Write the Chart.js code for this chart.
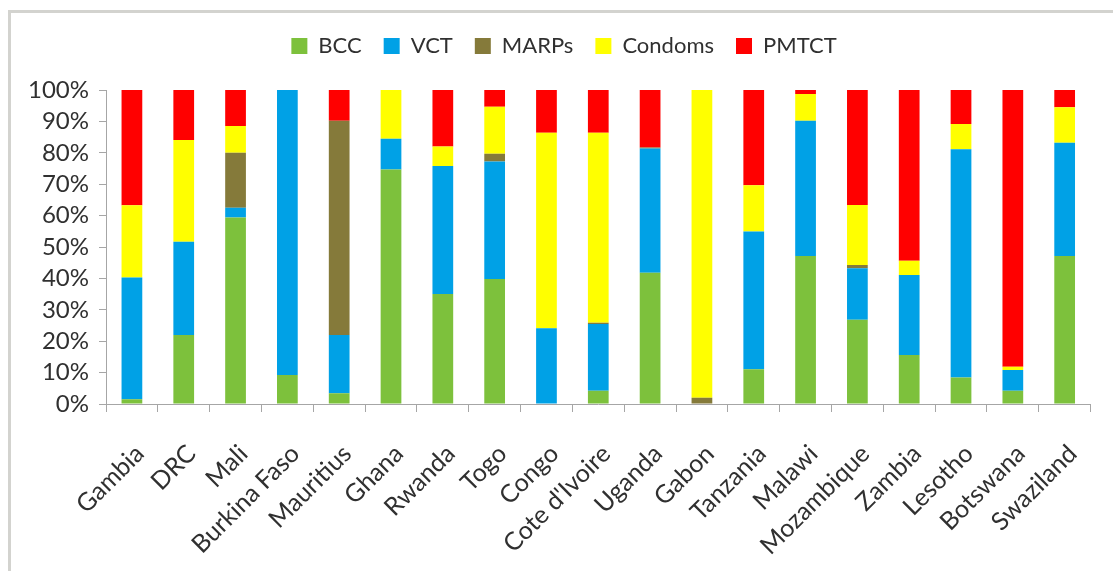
<!DOCTYPE html>
<html>
<head>
<meta charset="utf-8">
<script src="https://cdn.jsdelivr.net/npm/chart.js@4"></script>
<style>
  html, body { margin: 0; padding: 0; background: #fff; }
  #wrap { width: 1113px; height: 571px; position: relative; }
</style>
</head>
<body>
<div id="wrap"><canvas id="chart" width="1113" height="571"></canvas></div>
<script>
// --- DATA ---
const countries = ['Gambia', 'DRC', 'Mali', 'Burkina Faso', 'Mauritius', 'Ghana', 'Rwanda', 'Togo', 'Congo',
    "Cote d'Ivoire", 'Uganda', 'Gabon', 'Tanzania', 'Malawi', 'Mozambique', 'Zambia', 'Lesotho', 'Botswana', 'Swaziland'];

const bcc     = [1.5, 22.0, 59.4, 9.2, 3.4, 74.7, 35.0, 39.8, 0, 4.2, 41.8, 0, 11.1, 47.1, 26.8, 15.6, 8.4, 4.2, 47.1];
const vct     = [38.8, 29.7, 3.1, 90.8, 18.6, 9.8, 40.8, 37.4, 24.1, 21.3, 39.6, 0, 43.8, 43.1, 16.4, 25.5, 72.7, 6.6, 36.1];
const marps   = [0, 0, 17.5, 0, 68.2, 0, 0, 2.5, 0, 0.4, 0.3, 2.0, 0, 0, 1.1, 0, 0, 0, 0];
const condoms = [23.0, 32.4, 8.5, 0, 0, 15.5, 6.2, 15.0, 62.3, 60.5, 0, 98.0, 14.8, 8.5, 19.1, 4.5, 8.1, 1.1, 11.3];
const pmtct   = [36.7, 15.9, 11.5, 0, 9.8, 0, 18.0, 5.3, 13.6, 13.6, 18.3, 0, 30.3, 1.3, 36.6, 54.4, 10.8, 88.1, 5.5];

const yTicks = [0, 10, 20, 30, 40, 50, 60, 70, 80, 90, 100];

const seriesNames = ['BCC', 'VCT', 'MARPs', 'Condoms', 'PMTCT'];
const seriesColors = ['#7dc13c', '#00a1e6', '#857a3a', '#ffff00', '#ff0000'];
const seriesValues = [bcc, vct, marps, condoms, pmtct];

const FONT = 'Lato, "Open Sans", sans-serif';
const TEXT = '#303030';

// grey frame round the chart, and a bit of room under the legend
const framePlugin = {
    id: 'frame',
    beforeLayout(chart) {
        const lg = chart.legend;
        if (lg && !lg._extraRoom) {
            const fit = lg.fit.bind(lg);
            lg.fit = function () { fit(); this.height += 23; };
            lg._extraRoom = true;
        }
    },
    beforeDraw(chart) {
        const ctx = chart.ctx;
        ctx.save();
        ctx.fillStyle = '#ffffff';
        ctx.fillRect(0, 0, chart.width, chart.height);
        ctx.strokeStyle = '#d3d3cf';
        ctx.lineWidth = 3;
        ctx.strokeRect(9.5, 11.5, 1300, 800);
        ctx.restore();
    }
};

new Chart(document.getElementById('chart'), {
    type: 'bar',
    data: {
        labels: countries,
        datasets: seriesNames.map((name, i) => ({
            label: name,
            data: seriesValues[i],
            backgroundColor: seriesColors[i],
            borderWidth: 0,
            barPercentage: 0.4,
            categoryPercentage: 1.0
        }))
    },
    options: {
        responsive: false,
        animation: false,
        devicePixelRatio: 1,
        layout: { padding: { top: 13, right: 5, left: 20, bottom: 0 } },
        plugins: {
            legend: {
                position: 'top',
                labels: {
                    boxWidth: 16,
                    boxHeight: 16,
                    padding: 22,
                    color: TEXT,
                    font: { family: FONT, size: 22 }
                }
            },
            tooltip: { enabled: false }
        },
        scales: {
            x: {
                stacked: true,
                grid: {
                    display: true,
                    drawOnChartArea: false,
                    drawTicks: true,
                    tickLength: 8,
                    color: '#a6a6a6',
                    offset: true
                },
                border: { color: '#a6a6a6', width: 1 },
                ticks: {
                    color: TEXT,
                    font: { family: FONT, size: 25 },
                    minRotation: 45,
                    maxRotation: 45,
                    autoSkip: false,
                    padding: 27,
                    labelOffset: 8
                },
                afterFit(scale) { scale.height = 167; }
            },
            y: {
                stacked: true,
                min: 0,
                max: 100,
                afterBuildTicks(scale) { scale.ticks = yTicks.map(v => ({ value: v })); },
                grid: {
                    display: true,
                    drawOnChartArea: false,
                    drawTicks: true,
                    tickLength: 7,
                    color: '#a6a6a6'
                },
                border: { color: '#a6a6a6', width: 1 },
                ticks: {
                    color: TEXT,
                    font: { family: FONT, size: 24 },
                    padding: 10,
                    autoSkip: false,
                    callback: v => v + '%'
                },
                afterFit(scale) { scale.width = 86; }
            }
        }
    },
    plugins: [framePlugin]
});
</script>
</body>
</html>
